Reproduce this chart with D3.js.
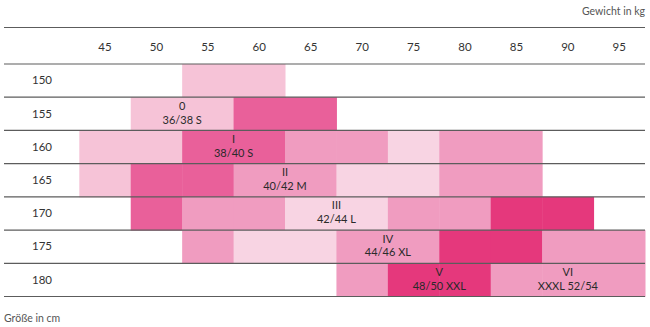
<!DOCTYPE html>
<html>
<head>
<meta charset="utf-8">
<script src="https://cdn.jsdelivr.net/npm/d3@7/dist/d3.min.js"></script>
<style>
  html, body { margin: 0; padding: 0; background: #fff; }
  svg { display: block; font-family: Lato, "Open Sans", sans-serif; }
</style>
</head>
<body>
<svg id="chart" width="650" height="327"></svg>
<script>
// ---- data ----
const weights = [45, 50, 55, 60, 65, 70, 75, 80, 85, 90, 95];
const heights = [150, 155, 160, 165, 170, 175, 180];
// shade code per height row, one per weight column ('' = empty)
const row150 = ['', '', 'a', 'a', '', '', '', '', '', '', ''];
const row155 = ['', 'a', 'a', 'd', 'd', '', '', '', '', '', ''];
const row160 = ['a', 'a', 'd', 'd', 'm', 'm', 'l', 'm', 'm', '', ''];
const row165 = ['a', 'd', 'd', 'm', 'm', 'l', 'l', 'm', 'm', '', ''];
const row170 = ['', 'd', 'm', 'm', 'l', 'l', 'm', 'm', 'x', 'x', ''];
const row175 = ['', '', 'm', 'l', 'l', 'm', 'm', 'x', 'x', 'm', 'm'];
const row180 = ['', '', '', '', '', 'm', 'x', 'x', 'm', 'm', 'm'];
const shadeRows = [row150, row155, row160, row165, row170, row175, row180];

const sizeCodes = ['0', 'I', 'II', 'III', 'IV', 'V', 'VI'];
const sizeNames = ['36/38 S', '38/40 S', '40/42 M', '42/44 L', '44/46 XL', '48/50 XXL', 'XXXL 52/54'];
const labelHeight = [155, 160, 165, 170, 175, 180, 180];
const labelFrom = [50, 55, 60, 65, 70, 75, 85];
const labelTo = [55, 60, 65, 70, 75, 80, 95];

const shadeColors = { a: '#f6c3d7', d: '#e9609a', m: '#f09cc0', l: '#f8d4e3', x: '#e5387c' };

// ---- drawing ----
const svg = d3.select('#chart');
const x = d3.scaleBand().domain(weights).range([79.3, 645]).padding(0);
const y = d3.scaleBand().domain(heights).range([64, 296.5]).padding(0);

const cells = [];
heights.forEach((h, i) => {
  weights.forEach((w, j) => {
    const s = shadeRows[i][j];
    if (s) cells.push({ h, w, s });
  });
});

svg.append('g').selectAll('rect').data(cells).join('rect')
  .attr('x', d => x(d.w))
  .attr('y', d => y(d.h))
  .attr('width', x.bandwidth() + 0.5)
  .attr('height', y.bandwidth() + 0.5)
  .attr('fill', d => shadeColors[d.s]);

// horizontal rules
const ruleYs = [27.5, y.range()[0]].concat(heights.map(h => y(h) + y.bandwidth()));
svg.append('g').selectAll('line').data(ruleYs).join('line')
  .attr('x1', 4).attr('x2', 645)
  .attr('y1', d => d).attr('y2', d => d)
  .attr('stroke', '#5c5c5c').attr('stroke-width', 1.2);

// weight axis (header)
const xAxis = svg.append('g').attr('transform', 'translate(0,50.5)')
  .call(d3.axisTop(x).tickSize(0).tickPadding(0));
xAxis.select('.domain').remove();
xAxis.selectAll('text').attr('font-size', 11.5).attr('fill', '#333')
  .attr('font-family', 'Lato, "Open Sans", sans-serif');

// height axis (rows)
const yAxis = svg.append('g').attr('transform', 'translate(52,0)')
  .call(d3.axisLeft(y).tickSize(0).tickPadding(0));
yAxis.select('.domain').remove();
yAxis.selectAll('text').attr('font-size', 11.5).attr('fill', '#333')
  .attr('font-family', 'Lato, "Open Sans", sans-serif');

// size labels (one text element, two lines)
const labels = sizeCodes.map((c, i) => ({
  code: c, name: sizeNames[i], h: labelHeight[i], from: labelFrom[i], to: labelTo[i]
}));
const lt = svg.append('g').selectAll('text').data(labels).join('text')
  .attr('text-anchor', 'middle')
  .attr('font-size', 11).attr('fill', '#2a2a2a')
  .attr('transform', d => {
    const cx = (x(d.from) + x(d.to) + x.bandwidth()) / 2;
    const cy = y(d.h) + y.bandwidth() / 2;
    return `translate(${cx},${cy})`;
  });
lt.append('tspan').attr('x', 0).attr('y', -4).text(d => d.code);
lt.append('tspan').attr('x', 0).attr('y', 9.8).text(d => d.name);

// axis titles
svg.append('text').attr('x', 645).attr('y', 15).attr('text-anchor', 'end')
  .attr('font-size', 10.5).attr('fill', '#555').text('Gewicht in kg');
svg.append('text').attr('x', 4).attr('y', 322)
  .attr('font-size', 10.5).attr('fill', '#555').text('Größe in cm');
</script>
</body>
</html>
